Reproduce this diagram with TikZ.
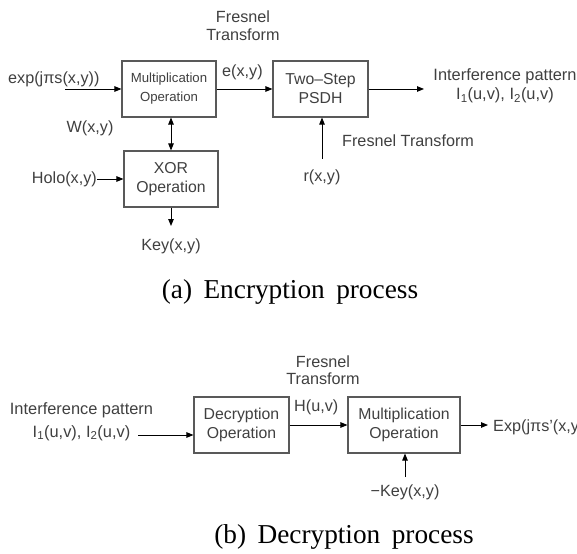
\documentclass[tikz,border=0pt]{standalone}
\usepackage{fontspec}
\setmainfont{Liberation Sans}
\newfontfamily\capfont{Liberation Serif}
\usetikzlibrary{arrows.meta}
\begin{document}
\begin{tikzpicture}[x=1pt,y=-1pt,
  box/.style={draw=black!65, line width=1.1pt, inner sep=0pt, minimum height=56pt, align=center, text=black!75},
  lbl/.style={text=black!75, font=\fontsize{16.2}{18}\selectfont, inner sep=0pt, align=center},
  boxfont/.style={font=\fontsize{15.8}{19}\selectfont},
  smallfont/.style={font=\fontsize{13.2}{19}\selectfont},
  captext/.style={text=black, font=\capfont\fontsize{27.3}{30}\selectfont, inner sep=0pt},
  arr/.style={-{Triangle[length=7pt,width=5.5pt]}, line width=0.9pt},
  barr/.style={{Triangle[length=7pt,width=5.5pt]}-{Triangle[length=7pt,width=5.5pt]}, line width=0.9pt},
]
\useasboundingbox (0,0) rectangle (577,553);
\clip (0,0) rectangle (577,553);
\fill[white] (0,0) rectangle (577,553);

% ---------- Encryption ----------
\node[box, smallfont, minimum width=94pt] (mult) at (169,89) {Multiplication\\Operation};
\node[box, boxfont, minimum width=94pt] (xor) at (171,179) {XOR\\Operation};
\node[box, boxfont, minimum width=95pt] (psdh) at (320.5,89) {Two–Step\\PSDH};

\node[lbl] (fres1) at (243,26) {Fresnel\\Transform};
\node[lbl, anchor=west] (expin) at (8,79) {exp(jπs(x,y))};
\node[lbl, anchor=west] (exy) at (222,72) {e(x,y)};
\node[lbl] (wxy) at (90,128) {W(x,y)};
\node[lbl, anchor=east] (holo) at (97,179) {Holo(x,y)};
\node[lbl] (key) at (171,246) {Key(x,y)};
\node[lbl, font=\fontsize{16.4}{19}\selectfont] (intf) at (505,86) {Interference pattern\\I\textsubscript{1}(u,v), I\textsubscript{2}(u,v)};
\node[lbl, anchor=west] (fres2) at (342,141) {Fresnel Transform};
\node[lbl] (rxy) at (322,177) {r(x,y)};

\coordinate (expstart) at (65,89);
\coordinate (outend) at (424,89);
\coordinate (keyend) at (171,226);
\coordinate (rstart) at (322,159);

\draw[arr] (expstart) -- (mult.west);
\draw[arr] (mult.east) -- (psdh.west);
\draw[arr] (psdh.east) -- (outend);
\draw[barr] (mult.south -| xor.north) -- (xor.north);
\draw[arr] (holo.east) -- (xor.west);
\draw[arr] (xor.south) -- (keyend);
\draw[arr] (rstart) -- (rstart |- psdh.south);

\node[captext] (capa) at (290,292) {(a)\, Encryption\, process};

% ---------- Decryption ----------
\node[box, boxfont, minimum width=95pt] (dec) at (241.5,425) {Decryption\\Operation};
\node[box, boxfont, minimum width=112pt] (mult2) at (404,425) {Multiplication\\Operation};

\node[lbl, font=\fontsize{16.2}{17}\selectfont] (fres3) at (323,370.5) {Fresnel\\Transform};
\node[lbl, anchor=west] (huv) at (294,407) {H(u,v)};
\node[lbl, font=\fontsize{16.4}{23}\selectfont] (intf2) at (81.5,421.5) {Interference pattern\\I\textsubscript{1}(u,v), I\textsubscript{2}(u,v)};
\node[lbl, anchor=west] (expout) at (493,427) {Exp(jπs'(x,y))};
\node[lbl] (mkey) at (405,492) {−Key(x,y)};

\coordinate (decstart) at (138,435);
\coordinate (decout) at (488,425);
\coordinate (mkeystart) at (405,477);

\draw[arr] (decstart) -- (decstart -| dec.west);
\draw[arr] (dec.east) -- (mult2.west);
\draw[arr] (mult2.east) -- (decout);
\draw[arr] (mkeystart) -- (mkeystart |- mult2.south);

\node[captext] (capb) at (344,537) {(b)\, Decryption\, process};
\end{tikzpicture}
\end{document}
